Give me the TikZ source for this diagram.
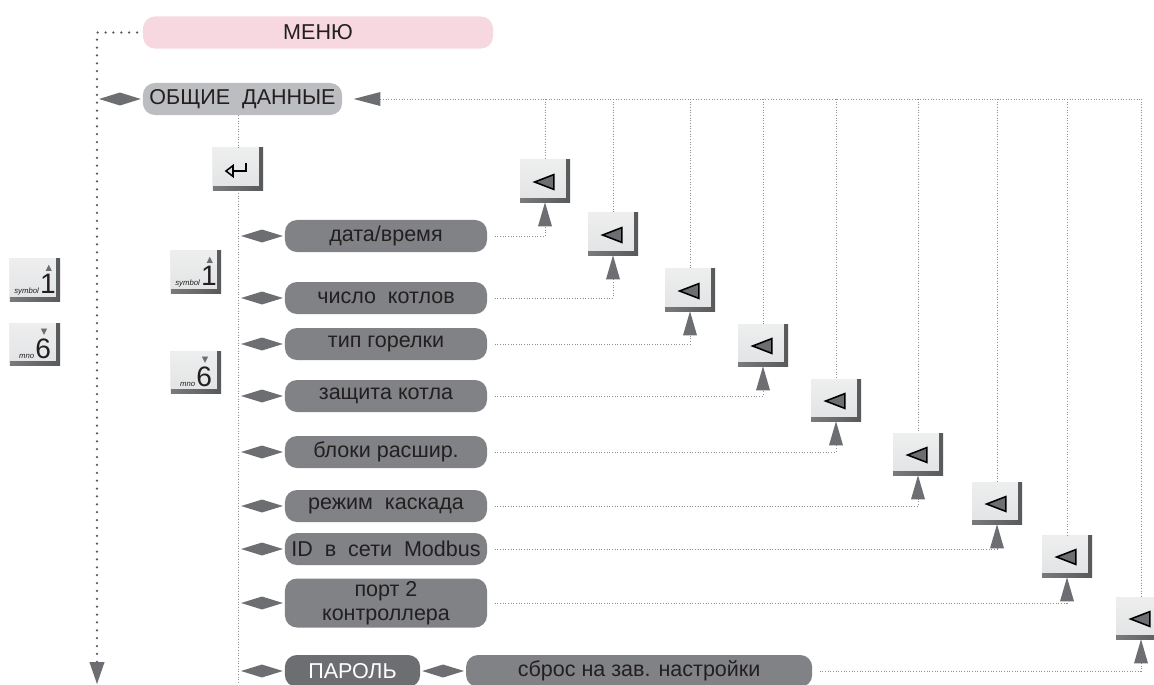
\documentclass[tikz,border=0pt]{standalone}
\usepackage{fontspec}
\setmainfont{Liberation Sans}
\newfontfamily\symfont{DejaVu Sans}
\usetikzlibrary{positioning,shapes.geometric,arrows.meta}
\definecolor{menupink}{RGB}{247,216,224}
\definecolor{headgrey}{RGB}{188,189,192}
\definecolor{itemgrey}{RGB}{128,130,133}
\definecolor{darkgrey}{RGB}{109,110,113}
\definecolor{dotgrey}{RGB}{140,142,145}
\definecolor{keyface}{RGB}{226,227,228}
\definecolor{keyedge}{RGB}{88,89,91}
\definecolor{ink}{RGB}{35,31,32}

% light face of a key, the dark rest is its edge
\newcommand\keyface{\fill[top color=keyface!60!white, bottom color=keyface] (path picture bounding box.north west) rectangle ([xshift=-3pt,yshift=3.5pt]path picture bounding box.south east);}
% text of a number key: mark, small word, digit
\newcommand\keytext[3]{{\symfont\fontsize{6}{6}\selectfont\textcolor{darkgrey}{#3}\kern2.5pt}\\[1pt]{\fontsize{5.5}{6}\selectfont\itshape #1}\,{\fontsize{20}{20}\selectfont #2}}

\tikzset{
  pill/.style={rounded corners=0.3cm, minimum height=0.8cm, inner sep=2pt, text=ink,
    font=\fontsize{15.3}{17}\selectfont},
  menupill/.style={pill, fill=menupink, minimum width=8.75cm},
  headpill/.style={pill, fill=headgrey, minimum width=4.98cm},
  item/.style={pill, fill=itemgrey, minimum width=5.05cm, align=center},
  pwpill/.style={pill, fill=darkgrey, text=white, minimum width=3.38cm},
  dia/.style={diamond, fill=darkgrey, minimum width=1.05cm, minimum height=0.33cm, inner sep=0pt},
  key/.style={minimum width=1.25cm, minimum height=1.05cm, inner sep=0pt,
    left color=keyedge!80, right color=keyedge, path picture={\keyface}},
  numkey/.style={key, align=right, text=ink, font=\fontsize{5}{8}\selectfont},
  backkey/.style={key, path picture={\keyface
    \filldraw[fill=darkgrey, draw=black, line width=1.1pt, shift={(path picture bounding box.center)}]
      (-0.26cm,-0.025cm) -- (0.22cm,0.16cm) -- (0.22cm,-0.21cm) -- cycle;}},
  enterkey/.style={key, path picture={\keyface
    \begin{scope}[shift={(path picture bounding box.center)}, line width=1.1pt]
      \draw (-0.125cm,-0.05cm) -- (0.2cm,-0.05cm) -- (0.2cm,0.15cm);
      \filldraw[fill=keyface] (-0.3cm,-0.05cm) -- (-0.125cm,0.085cm) -- (-0.125cm,-0.185cm) -- cycle;
    \end{scope}}},
  dots/.style={dotgrey, line width=0.6pt, dash pattern=on 0.6pt off 1.3pt},
  bigdots/.style={keyedge, line width=1.8pt, line cap=round, dash pattern=on 0pt off 5.6pt},
  uptip/.style={-{Triangle[width=0.35cm, length=0.6cm, line width=0pt, color=darkgrey]}},
}

\begin{document}
\begin{tikzpicture}[x=0.025cm, y=-0.025cm]
  \useasboundingbox (0,0) rectangle (1154,684);

  % top
  \node[menupill] (menu) at (318,32.5) {МЕНЮ};
  \node[headpill] (head) at (242.5,99) {ОБЩИЕ\ \ ДАННЫЕ};
  \node[dia, left=1pt of head] (hdia) {};
  \coordinate (mend) at (97,684);
  \draw[bigdots, -{Triangle[width=0.38cm, length=0.55cm, line width=0pt, color=darkgrey]}, shorten <=4pt] (menu.west) -| (mend);

  % keys on the left
  \node[numkey] (lk1) at (35,280) {\keytext{symbol}{1}{▲}};
  \node[numkey] (lk6) at (35,344) {\keytext{mno}{6}{▼}};
  \node[numkey] (mk1) at (196,272) {\keytext{symbol}{1}{▲}};
  \node[numkey] (mk6) at (196,372) {\keytext{mno}{6}{▼}};

  % menu items
  \coordinate (vend) at (238,684);
  \node[enterkey] (ek) at (238,169) {};
  \draw[dots] (vend |- head.south) -- (ek.north) (ek.south) -- (vend);

  \node[item] (p1) at (386,236) {дата/время};
  \node[item] (p2) at (386,298) {число\ \ котлов};
  \node[item] (p3) at (386,344) {тип горелки};
  \node[item] (p4) at (386,396) {защита котла};
  \node[item] (p5) at (386,452) {блоки расшир.};
  \node[item] (p6) at (386,506) {режим\ \ каскада};
  \node[item] (p7) at (386,549) {ID\ \ в\ \ сети\ \ Modbus};
  \node[item, minimum height=1.15cm] (p8) at (386,603) {порт 2\\контроллера};
  \node[pwpill] (pw) at (352.5,671) {ПАРОЛЬ};
  \node[dia, right=1pt of pw] (pdia) {};
  \node[item, minimum width=8.65cm, right=1pt of pdia] (p9) {сброс на зав. настройки};
  \foreach \i in {1,...,8}
    \node[dia, left=1pt of p\i] (d\i) {};
  \node[dia, left=1pt of pw] (d9) {};

  % back keys
  \node[backkey] (k1) at (545,181) {};
  \node[backkey] (k2) at (613,234) {};
  \node[backkey] (k3) at (690,290) {};
  \node[backkey] (k4) at (763,345) {};
  \node[backkey] (k5) at (836,400) {};
  \node[backkey] (k6) at (918,454) {};
  \node[backkey] (k7) at (997,503) {};
  \node[backkey] (k8) at (1067,556) {};
  \node[backkey] (k9) at (1141,618) {};

  \draw[dots, {Triangle[width=0.35cm, length=0.67cm, line width=0pt, color=darkgrey]}-] ([xshift=0.28cm]head.east) -- (k9.north |- head.east);
  \foreach \i in {1,...,9} {
    \draw[dots] (k\i.north |- head.east) -- (k\i.north);
    \draw[dots, uptip, shorten <=0.18cm] (p\i.east) -| (k\i.south);
  }
\end{tikzpicture}
\end{document}
